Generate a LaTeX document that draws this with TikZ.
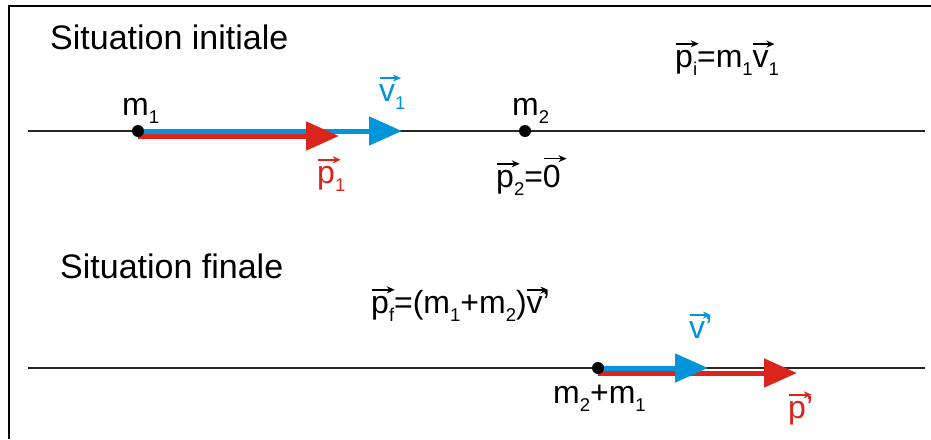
\documentclass[tikz,border=0pt]{standalone}
\usepackage{fontspec}
\setmainfont{Liberation Sans}
\usetikzlibrary{arrows.meta}
\definecolor{cblue}{RGB}{0,148,218}
\definecolor{cred}{RGB}{218,37,29}
\newcommand\vv[1]{{\setbox0\hbox{#1}\rlap{\raisebox{\dimexpr\ht0+6pt\relax}{\tikz[baseline=0pt]\draw[line width=1.5pt,-{Stealth[length=8pt,width=7pt]}] (-1pt,0pt)--(\dimexpr\wd0+4pt\relax,0pt);}}\box0}}
\newcommand\sbs[1]{\raisebox{-8pt}{\fontsize{18.5}{20}\selectfont #1}}
\begin{document}
\begin{tikzpicture}[x=1pt,y=-1pt,
  lbl/.style={anchor=base west,inner sep=0pt,font=\fontsize{32}{36}\selectfont},
  ttl/.style={anchor=base west,inner sep=0pt,font=\fontsize{34}{38}\selectfont},
  axis/.style={line width=1.5pt,black!85},
  frame/.style={line width=2.5pt,black},
  dot/.style={circle,fill=black,inner sep=0pt,minimum size=12pt},
  bluearrow/.style={line width=5pt,cblue,-{Triangle[length=33pt,width=28pt]}},
  redarrow/.style={line width=5pt,cred,-{Triangle[length=33pt,width=28pt]}}]
\useasboundingbox (0,0) rectangle (931,439);
% frame
\coordinate (fr1) at (931,6);
\coordinate (fr2) at (9,6);
\coordinate (fr3) at (9,439);
\draw[frame] (fr1) -- (fr2) -- (fr3);
% titles
\node[ttl] (t1) at (50,49) {Situation initiale};
\node[ttl] (t2) at (60,278) {Situation finale};
% axes
\coordinate (a1l) at (28,131);
\coordinate (a1r) at (925,131);
\coordinate (a2l) at (28,368);
\coordinate (a2r) at (925,368);
\draw[axis] (a1l) -- (a1r);
\draw[axis] (a2l) -- (a2r);
% initial situation
\coordinate (m1c) at (138,131);
\coordinate (m2c) at (525,131);
\coordinate (tv1) at (402,131);
\coordinate (tp1) at (339,131);
\draw[bluearrow] (m1c) -- (tv1);
\draw[redarrow] ([yshift=-5pt]m1c) -- ([yshift=-5pt]tp1);
\node[dot] (m1d) at (m1c) {};
\node[dot] (m2d) at (m2c) {};
\node[lbl] (lm1) at (122,115) {m\sbs{1}};
\node[lbl] (lm2) at (512,115) {m\sbs{2}};
\node[lbl,text=cblue] (lv1) at (379,101) {\vv{v}\sbs{1}};
\node[lbl,text=cred] (lp1) at (317,183) {\vv{p}\sbs{1}};
\node[lbl] (lp2) at (496,187) {\vv{p}\sbs{2}=\vv{0}};
\node[lbl] (lpi) at (675,67) {\vv{p}\sbs{i}=m\sbs{1}\vv{v}\sbs{1}};
% final situation
\coordinate (mfc) at (598,368);
\coordinate (tvf) at (708,368);
\coordinate (tpf) at (797,368);
\draw[redarrow] ([yshift=-5pt]mfc) -- ([yshift=-5pt]tpf);
\draw[bluearrow] (mfc) -- (tvf);
\node[dot] (mfd) at (mfc) {};
\node[lbl] (lpf) at (371,313) {\vv{p}\sbs{f}=(m\sbs{1}+m\sbs{2})\vv{v}’};
\node[lbl,text=cblue] (lvf) at (689,338) {\vv{v}’};
\node[lbl] (lmf) at (553,403) {m\sbs{2}+m\sbs{1}};
\node[lbl,text=cred] (lpp) at (788,418) {\vv{p}’};
\end{tikzpicture}
\end{document}
